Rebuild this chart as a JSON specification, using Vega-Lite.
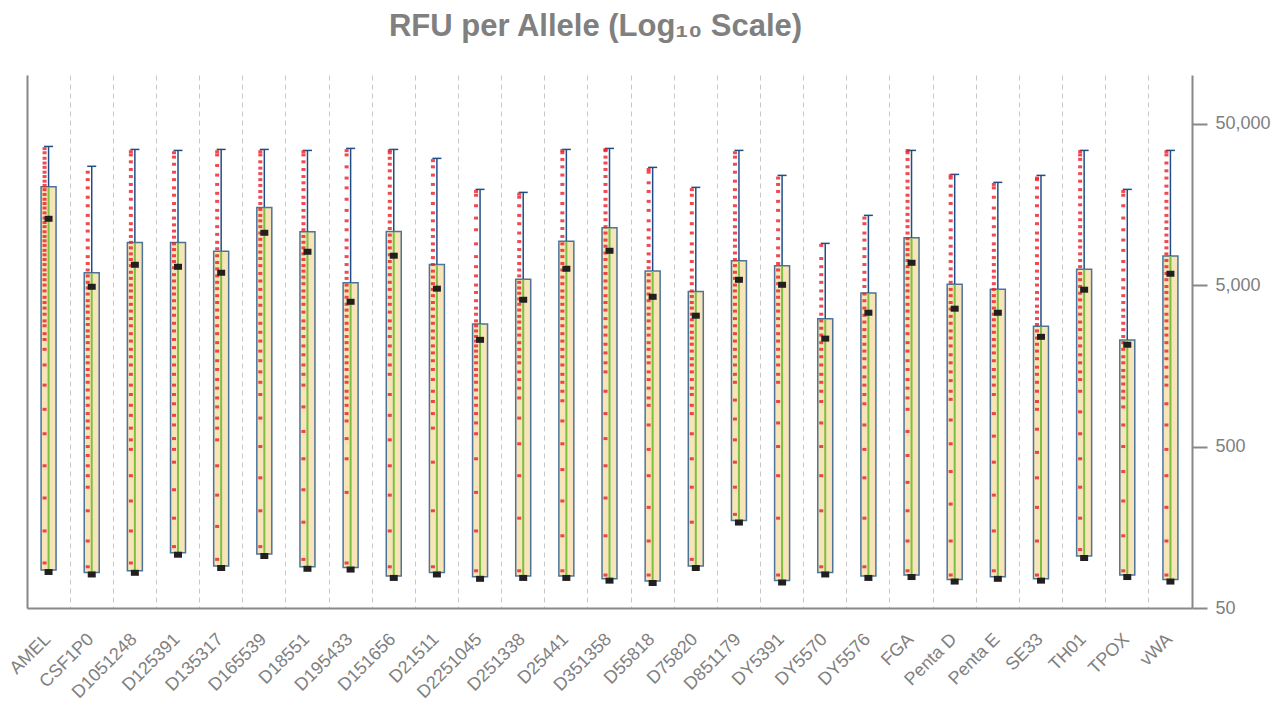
{
  "$schema": "https://vega.github.io/schema/vega-lite/v6.json",
  "width": 1165,
  "height": 533,
  "autosize": {"type": "none"},
  "padding": {"left": 27, "top": 75, "right": 93, "bottom": 99},
  "background": "white",
  "config": {"view": {"stroke": null}},
  "title": {"text": "RFU per Allele (Log₁₀ Scale)", "font": "Liberation Sans", "fontSize": 31, "fontWeight": "bold", "color": "#808080", "baseline": "alphabetic", "offset": 8, "dx": -14, "anchor": "middle"},
  "datasets": {
    "stats": [
      {"locus": "AMEL", "low": 86, "mid": 12870, "high": 20300, "max": 36100},
      {"locus": "CSF1P0", "low": 83, "mid": 4880, "high": 5960, "max": 27200},
      {"locus": "D1051248", "low": 85, "mid": 6680, "high": 9190, "max": 34600},
      {"locus": "D125391", "low": 110, "mid": 6490, "high": 9190, "max": 34100},
      {"locus": "D135317", "low": 91, "mid": 5960, "high": 8085, "max": 34600},
      {"locus": "D165539", "low": 108, "mid": 10540, "high": 15140, "max": 34600},
      {"locus": "D18551", "low": 90, "mid": 8040, "high": 10690, "max": 34100},
      {"locus": "D195433", "low": 89, "mid": 3940, "high": 5170, "max": 35100},
      {"locus": "D151656", "low": 79, "mid": 7600, "high": 10750, "max": 34600},
      {"locus": "D21511", "low": 83, "mid": 4750, "high": 6715, "max": 30450},
      {"locus": "D2251045", "low": 78, "mid": 2290, "high": 2870, "max": 19570},
      {"locus": "D251338", "low": 79, "mid": 4055, "high": 5425, "max": 18750},
      {"locus": "D25441", "low": 79, "mid": 6310, "high": 9325, "max": 34600},
      {"locus": "D351358", "low": 76, "mid": 8155, "high": 11320, "max": 35100},
      {"locus": "D55818", "low": 73.5, "mid": 4230, "high": 6107, "max": 26780},
      {"locus": "D75820", "low": 91, "mid": 3230, "high": 4570, "max": 20140},
      {"locus": "D851179", "low": 174, "mid": 5390, "high": 7070, "max": 34120},
      {"locus": "DY5391", "low": 74, "mid": 5020, "high": 6584, "max": 23890},
      {"locus": "DY5570", "low": 83, "mid": 2330, "high": 3093, "max": 9060},
      {"locus": "DY5576", "low": 79, "mid": 3370, "high": 4462, "max": 13510},
      {"locus": "FGA", "low": 80, "mid": 6870, "high": 9815, "max": 34120},
      {"locus": "Penta D", "low": 75, "mid": 3570, "high": 5050, "max": 24230},
      {"locus": "Penta E", "low": 78, "mid": 3370, "high": 4704, "max": 21630},
      {"locus": "SE33", "low": 76, "mid": 2390, "high": 2776, "max": 23890},
      {"locus": "TH01", "low": 105, "mid": 4680, "high": 6264, "max": 34120},
      {"locus": "TPOX", "low": 80, "mid": 2135, "high": 2283, "max": 19570},
      {"locus": "vWA", "low": 75, "mid": 5875, "high": 7560, "max": 34120}
    ],
    "pts": [
      {"locus":"AMEL","rfu":95},{"locus":"AMEL","rfu":150},{"locus":"AMEL","rfu":240},{"locus":"AMEL","rfu":380},{"locus":"AMEL","rfu":600},{"locus":"AMEL","rfu":850},{"locus":"AMEL","rfu":1200},{"locus":"AMEL","rfu":1600},{"locus":"AMEL","rfu":2000},{"locus":"AMEL","rfu":2500},{"locus":"AMEL","rfu":3000},{"locus":"AMEL","rfu":3600},{"locus":"AMEL","rfu":4200},{"locus":"AMEL","rfu":5000},{"locus":"AMEL","rfu":5800},{"locus":"AMEL","rfu":6700},{"locus":"AMEL","rfu":7700},{"locus":"AMEL","rfu":8800},{"locus":"AMEL","rfu":10000},{"locus":"AMEL","rfu":11500},{"locus":"AMEL","rfu":13000},{"locus":"AMEL","rfu":15000},{"locus":"AMEL","rfu":17000},{"locus":"AMEL","rfu":19500},{"locus":"AMEL","rfu":22000},{"locus":"AMEL","rfu":25000},{"locus":"AMEL","rfu":28500},{"locus":"AMEL","rfu":33000},
      {"locus":"AMEL","rfu":2300},{"locus":"AMEL","rfu":2800},{"locus":"AMEL","rfu":3300},{"locus":"AMEL","rfu":3900},{"locus":"AMEL","rfu":4600},{"locus":"AMEL","rfu":5400},{"locus":"AMEL","rfu":6200},{"locus":"AMEL","rfu":7200},{"locus":"AMEL","rfu":8200},{"locus":"AMEL","rfu":9400},{"locus":"AMEL","rfu":10700},{"locus":"AMEL","rfu":12200},{"locus":"AMEL","rfu":14000},{"locus":"AMEL","rfu":16000},{"locus":"AMEL","rfu":18200},{"locus":"AMEL","rfu":20700},{"locus":"AMEL","rfu":23500},{"locus":"AMEL","rfu":26800},{"locus":"AMEL","rfu":30500},{"locus":"AMEL","rfu":35000},
      {"locus":"CSF1P0","rfu":90},{"locus":"CSF1P0","rfu":130},{"locus":"CSF1P0","rfu":200},{"locus":"CSF1P0","rfu":280},{"locus":"CSF1P0","rfu":380},{"locus":"CSF1P0","rfu":500},{"locus":"CSF1P0","rfu":650},{"locus":"CSF1P0","rfu":800},{"locus":"CSF1P0","rfu":1000},{"locus":"CSF1P0","rfu":1250},{"locus":"CSF1P0","rfu":1500},{"locus":"CSF1P0","rfu":1800},{"locus":"CSF1P0","rfu":2200},{"locus":"CSF1P0","rfu":2600},{"locus":"CSF1P0","rfu":3100},{"locus":"CSF1P0","rfu":3700},{"locus":"CSF1P0","rfu":4400},{"locus":"CSF1P0","rfu":5200},{"locus":"CSF1P0","rfu":6200},{"locus":"CSF1P0","rfu":7500},{"locus":"CSF1P0","rfu":9500},{"locus":"CSF1P0","rfu":12000},{"locus":"CSF1P0","rfu":15500},{"locus":"CSF1P0","rfu":20000},{"locus":"CSF1P0","rfu":25000},
      {"locus":"CSF1P0","rfu":330},{"locus":"CSF1P0","rfu":440},{"locus":"CSF1P0","rfu":570},{"locus":"CSF1P0","rfu":720},{"locus":"CSF1P0","rfu":900},{"locus":"CSF1P0","rfu":1120},{"locus":"CSF1P0","rfu":1380},{"locus":"CSF1P0","rfu":1650},{"locus":"CSF1P0","rfu":2000},{"locus":"CSF1P0","rfu":2400},{"locus":"CSF1P0","rfu":2850},{"locus":"CSF1P0","rfu":3400},{"locus":"CSF1P0","rfu":4000},{"locus":"CSF1P0","rfu":4800},{"locus":"CSF1P0","rfu":5700},{"locus":"CSF1P0","rfu":6800},{"locus":"CSF1P0","rfu":8500},{"locus":"CSF1P0","rfu":10800},{"locus":"CSF1P0","rfu":13500},{"locus":"CSF1P0","rfu":17500},{"locus":"CSF1P0","rfu":22500},
      {"locus":"D1051248","rfu":95},{"locus":"D1051248","rfu":150},{"locus":"D1051248","rfu":230},{"locus":"D1051248","rfu":330},{"locus":"D1051248","rfu":480},{"locus":"D1051248","rfu":650},{"locus":"D1051248","rfu":900},{"locus":"D1051248","rfu":1200},{"locus":"D1051248","rfu":1600},{"locus":"D1051248","rfu":2000},{"locus":"D1051248","rfu":2500},{"locus":"D1051248","rfu":3100},{"locus":"D1051248","rfu":3800},{"locus":"D1051248","rfu":4600},{"locus":"D1051248","rfu":5500},{"locus":"D1051248","rfu":6600},{"locus":"D1051248","rfu":7800},{"locus":"D1051248","rfu":9200},{"locus":"D1051248","rfu":11000},{"locus":"D1051248","rfu":13500},{"locus":"D1051248","rfu":17000},{"locus":"D1051248","rfu":21000},{"locus":"D1051248","rfu":26000},{"locus":"D1051248","rfu":32000},
      {"locus":"D1051248","rfu":550},{"locus":"D1051248","rfu":780},{"locus":"D1051248","rfu":1050},{"locus":"D1051248","rfu":1400},{"locus":"D1051248","rfu":1800},{"locus":"D1051248","rfu":2250},{"locus":"D1051248","rfu":2800},{"locus":"D1051248","rfu":3450},{"locus":"D1051248","rfu":4200},{"locus":"D1051248","rfu":5000},{"locus":"D1051248","rfu":6000},{"locus":"D1051248","rfu":7200},{"locus":"D1051248","rfu":8500},{"locus":"D1051248","rfu":10000},{"locus":"D1051248","rfu":12000},{"locus":"D1051248","rfu":15000},{"locus":"D1051248","rfu":19000},{"locus":"D1051248","rfu":23500},{"locus":"D1051248","rfu":29000},{"locus":"D1051248","rfu":33500},
      {"locus":"D125391","rfu":120},{"locus":"D125391","rfu":180},{"locus":"D125391","rfu":270},{"locus":"D125391","rfu":400},{"locus":"D125391","rfu":560},{"locus":"D125391","rfu":780},{"locus":"D125391","rfu":1050},{"locus":"D125391","rfu":1400},{"locus":"D125391","rfu":1800},{"locus":"D125391","rfu":2300},{"locus":"D125391","rfu":2900},{"locus":"D125391","rfu":3600},{"locus":"D125391","rfu":4400},{"locus":"D125391","rfu":5300},{"locus":"D125391","rfu":6400},{"locus":"D125391","rfu":7600},{"locus":"D125391","rfu":9000},{"locus":"D125391","rfu":10800},{"locus":"D125391","rfu":13000},{"locus":"D125391","rfu":16000},{"locus":"D125391","rfu":20000},{"locus":"D125391","rfu":25000},{"locus":"D125391","rfu":31000},
      {"locus":"D125391","rfu":480},{"locus":"D125391","rfu":680},{"locus":"D125391","rfu":920},{"locus":"D125391","rfu":1200},{"locus":"D125391","rfu":1600},{"locus":"D125391","rfu":2050},{"locus":"D125391","rfu":2600},{"locus":"D125391","rfu":3250},{"locus":"D125391","rfu":4000},{"locus":"D125391","rfu":4800},{"locus":"D125391","rfu":5800},{"locus":"D125391","rfu":7000},{"locus":"D125391","rfu":8300},{"locus":"D125391","rfu":9900},{"locus":"D125391","rfu":11800},{"locus":"D125391","rfu":14500},{"locus":"D125391","rfu":18000},{"locus":"D125391","rfu":22500},{"locus":"D125391","rfu":28000},{"locus":"D125391","rfu":33000},
      {"locus":"D135317","rfu":100},{"locus":"D135317","rfu":160},{"locus":"D135317","rfu":250},{"locus":"D135317","rfu":380},{"locus":"D135317","rfu":550},{"locus":"D135317","rfu":750},{"locus":"D135317","rfu":1000},{"locus":"D135317","rfu":1300},{"locus":"D135317","rfu":1700},{"locus":"D135317","rfu":2200},{"locus":"D135317","rfu":2800},{"locus":"D135317","rfu":3500},{"locus":"D135317","rfu":4300},{"locus":"D135317","rfu":5200},{"locus":"D135317","rfu":6300},{"locus":"D135317","rfu":7600},{"locus":"D135317","rfu":9200},{"locus":"D135317","rfu":11500},{"locus":"D135317","rfu":14500},{"locus":"D135317","rfu":18500},{"locus":"D135317","rfu":24000},{"locus":"D135317","rfu":32000},
      {"locus":"D135317","rfu":650},{"locus":"D135317","rfu":880},{"locus":"D135317","rfu":1150},{"locus":"D135317","rfu":1500},{"locus":"D135317","rfu":1950},{"locus":"D135317","rfu":2500},{"locus":"D135317","rfu":3150},{"locus":"D135317","rfu":3900},{"locus":"D135317","rfu":4750},{"locus":"D135317","rfu":5700},{"locus":"D135317","rfu":6900},{"locus":"D135317","rfu":8400},{"locus":"D135317","rfu":10300},{"locus":"D135317","rfu":13000},{"locus":"D135317","rfu":16500},{"locus":"D135317","rfu":21000},{"locus":"D135317","rfu":27500},{"locus":"D135317","rfu":33500},
      {"locus":"D165539","rfu":120},{"locus":"D165539","rfu":200},{"locus":"D165539","rfu":320},{"locus":"D165539","rfu":500},{"locus":"D165539","rfu":750},{"locus":"D165539","rfu":1050},{"locus":"D165539","rfu":1450},{"locus":"D165539","rfu":1950},{"locus":"D165539","rfu":2550},{"locus":"D165539","rfu":3300},{"locus":"D165539","rfu":4200},{"locus":"D165539","rfu":5300},{"locus":"D165539","rfu":6600},{"locus":"D165539","rfu":8000},{"locus":"D165539","rfu":9600},{"locus":"D165539","rfu":11500},{"locus":"D165539","rfu":13500},{"locus":"D165539","rfu":16000},{"locus":"D165539","rfu":19000},{"locus":"D165539","rfu":22500},{"locus":"D165539","rfu":26500},{"locus":"D165539","rfu":32000},
      {"locus":"D165539","rfu":1250},{"locus":"D165539","rfu":1700},{"locus":"D165539","rfu":2250},{"locus":"D165539","rfu":2900},{"locus":"D165539","rfu":3750},{"locus":"D165539","rfu":4700},{"locus":"D165539","rfu":5900},{"locus":"D165539","rfu":7300},{"locus":"D165539","rfu":8800},{"locus":"D165539","rfu":10500},{"locus":"D165539","rfu":12500},{"locus":"D165539","rfu":14700},{"locus":"D165539","rfu":17500},{"locus":"D165539","rfu":20700},{"locus":"D165539","rfu":24500},{"locus":"D165539","rfu":29000},{"locus":"D165539","rfu":33500},
      {"locus":"D18551","rfu":100},{"locus":"D18551","rfu":170},{"locus":"D18551","rfu":270},{"locus":"D18551","rfu":420},{"locus":"D18551","rfu":620},{"locus":"D18551","rfu":880},{"locus":"D18551","rfu":1200},{"locus":"D18551","rfu":1600},{"locus":"D18551","rfu":2100},{"locus":"D18551","rfu":2700},{"locus":"D18551","rfu":3400},{"locus":"D18551","rfu":4200},{"locus":"D18551","rfu":5100},{"locus":"D18551","rfu":6100},{"locus":"D18551","rfu":7200},{"locus":"D18551","rfu":8500},{"locus":"D18551","rfu":10000},{"locus":"D18551","rfu":12000},{"locus":"D18551","rfu":14500},{"locus":"D18551","rfu":17500},{"locus":"D18551","rfu":21500},{"locus":"D18551","rfu":26000},{"locus":"D18551","rfu":32000},
      {"locus":"D18551","rfu":1400},{"locus":"D18551","rfu":1850},{"locus":"D18551","rfu":2400},{"locus":"D18551","rfu":3000},{"locus":"D18551","rfu":3800},{"locus":"D18551","rfu":4600},{"locus":"D18551","rfu":5600},{"locus":"D18551","rfu":6600},{"locus":"D18551","rfu":7800},{"locus":"D18551","rfu":9200},{"locus":"D18551","rfu":11000},{"locus":"D18551","rfu":13200},{"locus":"D18551","rfu":16000},{"locus":"D18551","rfu":19500},{"locus":"D18551","rfu":23500},{"locus":"D18551","rfu":29000},{"locus":"D18551","rfu":33500},
      {"locus":"D195433","rfu":95},{"locus":"D195433","rfu":260},{"locus":"D195433","rfu":420},{"locus":"D195433","rfu":560},{"locus":"D195433","rfu":720},{"locus":"D195433","rfu":900},{"locus":"D195433","rfu":1100},{"locus":"D195433","rfu":1350},{"locus":"D195433","rfu":1650},{"locus":"D195433","rfu":2000},{"locus":"D195433","rfu":2400},{"locus":"D195433","rfu":2900},{"locus":"D195433","rfu":3500},{"locus":"D195433","rfu":4200},{"locus":"D195433","rfu":5000},{"locus":"D195433","rfu":6000},{"locus":"D195433","rfu":7500},{"locus":"D195433","rfu":9500},{"locus":"D195433","rfu":12500},{"locus":"D195433","rfu":17000},{"locus":"D195433","rfu":23000},{"locus":"D195433","rfu":32000},
      {"locus":"D195433","rfu":800},{"locus":"D195433","rfu":1000},{"locus":"D195433","rfu":1250},{"locus":"D195433","rfu":1500},{"locus":"D195433","rfu":1800},{"locus":"D195433","rfu":2200},{"locus":"D195433","rfu":2650},{"locus":"D195433","rfu":3200},{"locus":"D195433","rfu":3800},{"locus":"D195433","rfu":4600},{"locus":"D195433","rfu":5500},{"locus":"D195433","rfu":6700},{"locus":"D195433","rfu":8500},{"locus":"D195433","rfu":11000},{"locus":"D195433","rfu":14500},{"locus":"D195433","rfu":20000},{"locus":"D195433","rfu":27000},{"locus":"D195433","rfu":34000},
      {"locus":"D151656","rfu":90},{"locus":"D151656","rfu":150},{"locus":"D151656","rfu":250},{"locus":"D151656","rfu":380},{"locus":"D151656","rfu":550},{"locus":"D151656","rfu":780},{"locus":"D151656","rfu":1050},{"locus":"D151656","rfu":1400},{"locus":"D151656","rfu":1850},{"locus":"D151656","rfu":2400},{"locus":"D151656","rfu":3000},{"locus":"D151656","rfu":3800},{"locus":"D151656","rfu":4700},{"locus":"D151656","rfu":5800},{"locus":"D151656","rfu":7000},{"locus":"D151656","rfu":8500},{"locus":"D151656","rfu":10200},{"locus":"D151656","rfu":12300},{"locus":"D151656","rfu":15000},{"locus":"D151656","rfu":18500},{"locus":"D151656","rfu":23000},{"locus":"D151656","rfu":28000},{"locus":"D151656","rfu":33000},
      {"locus":"D151656","rfu":1600},{"locus":"D151656","rfu":2100},{"locus":"D151656","rfu":2700},{"locus":"D151656","rfu":3400},{"locus":"D151656","rfu":4200},{"locus":"D151656","rfu":5200},{"locus":"D151656","rfu":6400},{"locus":"D151656","rfu":7700},{"locus":"D151656","rfu":9300},{"locus":"D151656","rfu":11200},{"locus":"D151656","rfu":13500},{"locus":"D151656","rfu":16500},{"locus":"D151656","rfu":20500},{"locus":"D151656","rfu":25500},{"locus":"D151656","rfu":30500},{"locus":"D151656","rfu":34000},
      {"locus":"D21511","rfu":90},{"locus":"D21511","rfu":200},{"locus":"D21511","rfu":400},{"locus":"D21511","rfu":650},{"locus":"D21511","rfu":950},{"locus":"D21511","rfu":1300},{"locus":"D21511","rfu":1700},{"locus":"D21511","rfu":2100},{"locus":"D21511","rfu":2600},{"locus":"D21511","rfu":3200},{"locus":"D21511","rfu":3900},{"locus":"D21511","rfu":4700},{"locus":"D21511","rfu":5600},{"locus":"D21511","rfu":6700},{"locus":"D21511","rfu":8200},{"locus":"D21511","rfu":10000},{"locus":"D21511","rfu":12500},{"locus":"D21511","rfu":16000},{"locus":"D21511","rfu":21000},{"locus":"D21511","rfu":27000},
      {"locus":"D21511","rfu":800},{"locus":"D21511","rfu":1100},{"locus":"D21511","rfu":1500},{"locus":"D21511","rfu":1900},{"locus":"D21511","rfu":2350},{"locus":"D21511","rfu":2900},{"locus":"D21511","rfu":3550},{"locus":"D21511","rfu":4300},{"locus":"D21511","rfu":5100},{"locus":"D21511","rfu":6100},{"locus":"D21511","rfu":7400},{"locus":"D21511","rfu":9000},{"locus":"D21511","rfu":11000},{"locus":"D21511","rfu":14000},{"locus":"D21511","rfu":18500},{"locus":"D21511","rfu":24000},{"locus":"D21511","rfu":29500},
      {"locus":"D2251045","rfu":85},{"locus":"D2251045","rfu":150},{"locus":"D2251045","rfu":260},{"locus":"D2251045","rfu":420},{"locus":"D2251045","rfu":600},{"locus":"D2251045","rfu":800},{"locus":"D2251045","rfu":1000},{"locus":"D2251045","rfu":1250},{"locus":"D2251045","rfu":1500},{"locus":"D2251045","rfu":1800},{"locus":"D2251045","rfu":2100},{"locus":"D2251045","rfu":2400},{"locus":"D2251045","rfu":2800},{"locus":"D2251045","rfu":3300},{"locus":"D2251045","rfu":4000},{"locus":"D2251045","rfu":5000},{"locus":"D2251045","rfu":6500},{"locus":"D2251045","rfu":9000},{"locus":"D2251045","rfu":13000},{"locus":"D2251045","rfu":18000},
      {"locus":"D2251045","rfu":700},{"locus":"D2251045","rfu":900},{"locus":"D2251045","rfu":1120},{"locus":"D2251045","rfu":1380},{"locus":"D2251045","rfu":1650},{"locus":"D2251045","rfu":1950},{"locus":"D2251045","rfu":2250},{"locus":"D2251045","rfu":2600},{"locus":"D2251045","rfu":3000},{"locus":"D2251045","rfu":3600},{"locus":"D2251045","rfu":4500},{"locus":"D2251045","rfu":5700},{"locus":"D2251045","rfu":7500},{"locus":"D2251045","rfu":11000},{"locus":"D2251045","rfu":15500},{"locus":"D2251045","rfu":19000},
      {"locus":"D251338","rfu":85},{"locus":"D251338","rfu":180},{"locus":"D251338","rfu":330},{"locus":"D251338","rfu":520},{"locus":"D251338","rfu":750},{"locus":"D251338","rfu":1000},{"locus":"D251338","rfu":1300},{"locus":"D251338","rfu":1650},{"locus":"D251338","rfu":2000},{"locus":"D251338","rfu":2450},{"locus":"D251338","rfu":2950},{"locus":"D251338","rfu":3500},{"locus":"D251338","rfu":4100},{"locus":"D251338","rfu":4800},{"locus":"D251338","rfu":5700},{"locus":"D251338","rfu":6800},{"locus":"D251338","rfu":8300},{"locus":"D251338","rfu":10500},{"locus":"D251338","rfu":13500},{"locus":"D251338","rfu":17500},
      {"locus":"D251338","rfu":1150},{"locus":"D251338","rfu":1450},{"locus":"D251338","rfu":1800},{"locus":"D251338","rfu":2200},{"locus":"D251338","rfu":2700},{"locus":"D251338","rfu":3200},{"locus":"D251338","rfu":3800},{"locus":"D251338","rfu":4450},{"locus":"D251338","rfu":5200},{"locus":"D251338","rfu":6200},{"locus":"D251338","rfu":7500},{"locus":"D251338","rfu":9300},{"locus":"D251338","rfu":12000},{"locus":"D251338","rfu":15500},{"locus":"D251338","rfu":18300},
      {"locus":"D25441","rfu":85},{"locus":"D25441","rfu":140},{"locus":"D25441","rfu":230},{"locus":"D25441","rfu":360},{"locus":"D25441","rfu":520},{"locus":"D25441","rfu":720},{"locus":"D25441","rfu":960},{"locus":"D25441","rfu":1250},{"locus":"D25441","rfu":1600},{"locus":"D25441","rfu":2000},{"locus":"D25441","rfu":2500},{"locus":"D25441","rfu":3100},{"locus":"D25441","rfu":3800},{"locus":"D25441","rfu":4600},{"locus":"D25441","rfu":5600},{"locus":"D25441","rfu":6800},{"locus":"D25441","rfu":8200},{"locus":"D25441","rfu":10000},{"locus":"D25441","rfu":12500},{"locus":"D25441","rfu":16000},{"locus":"D25441","rfu":21000},{"locus":"D25441","rfu":27000},{"locus":"D25441","rfu":33000},
      {"locus":"D25441","rfu":1100},{"locus":"D25441","rfu":1400},{"locus":"D25441","rfu":1800},{"locus":"D25441","rfu":2250},{"locus":"D25441","rfu":2800},{"locus":"D25441","rfu":3450},{"locus":"D25441","rfu":4200},{"locus":"D25441","rfu":5100},{"locus":"D25441","rfu":6200},{"locus":"D25441","rfu":7500},{"locus":"D25441","rfu":9000},{"locus":"D25441","rfu":11200},{"locus":"D25441","rfu":14000},{"locus":"D25441","rfu":18500},{"locus":"D25441","rfu":24000},{"locus":"D25441","rfu":30000},{"locus":"D25441","rfu":34000},
      {"locus":"D351358","rfu":80},{"locus":"D351358","rfu":140},{"locus":"D351358","rfu":240},{"locus":"D351358","rfu":380},{"locus":"D351358","rfu":560},{"locus":"D351358","rfu":800},{"locus":"D351358","rfu":1100},{"locus":"D351358","rfu":1450},{"locus":"D351358","rfu":1900},{"locus":"D351358","rfu":2450},{"locus":"D351358","rfu":3100},{"locus":"D351358","rfu":3900},{"locus":"D351358","rfu":4800},{"locus":"D351358","rfu":5900},{"locus":"D351358","rfu":7200},{"locus":"D351358","rfu":8700},{"locus":"D351358","rfu":10500},{"locus":"D351358","rfu":12700},{"locus":"D351358","rfu":15500},{"locus":"D351358","rfu":19000},{"locus":"D351358","rfu":23500},{"locus":"D351358","rfu":28500},{"locus":"D351358","rfu":34000},
      {"locus":"D351358","rfu":1650},{"locus":"D351358","rfu":2150},{"locus":"D351358","rfu":2750},{"locus":"D351358","rfu":3500},{"locus":"D351358","rfu":4300},{"locus":"D351358","rfu":5300},{"locus":"D351358","rfu":6500},{"locus":"D351358","rfu":7900},{"locus":"D351358","rfu":9500},{"locus":"D351358","rfu":11500},{"locus":"D351358","rfu":14000},{"locus":"D351358","rfu":17000},{"locus":"D351358","rfu":21000},{"locus":"D351358","rfu":26000},{"locus":"D351358","rfu":31000},{"locus":"D351358","rfu":34500},
      {"locus":"D55818","rfu":80},{"locus":"D55818","rfu":130},{"locus":"D55818","rfu":210},{"locus":"D55818","rfu":330},{"locus":"D55818","rfu":480},{"locus":"D55818","rfu":680},{"locus":"D55818","rfu":900},{"locus":"D55818","rfu":1150},{"locus":"D55818","rfu":1450},{"locus":"D55818","rfu":1800},{"locus":"D55818","rfu":2200},{"locus":"D55818","rfu":2700},{"locus":"D55818","rfu":3300},{"locus":"D55818","rfu":4000},{"locus":"D55818","rfu":4800},{"locus":"D55818","rfu":5800},{"locus":"D55818","rfu":7000},{"locus":"D55818","rfu":8800},{"locus":"D55818","rfu":11000},{"locus":"D55818","rfu":14500},{"locus":"D55818","rfu":19000},{"locus":"D55818","rfu":25000},
      {"locus":"D55818","rfu":1000},{"locus":"D55818","rfu":1300},{"locus":"D55818","rfu":1650},{"locus":"D55818","rfu":2000},{"locus":"D55818","rfu":2450},{"locus":"D55818","rfu":3000},{"locus":"D55818","rfu":3600},{"locus":"D55818","rfu":4400},{"locus":"D55818","rfu":5300},{"locus":"D55818","rfu":6400},{"locus":"D55818","rfu":7800},{"locus":"D55818","rfu":9800},{"locus":"D55818","rfu":12500},{"locus":"D55818","rfu":16500},{"locus":"D55818","rfu":21500},{"locus":"D55818","rfu":26000},
      {"locus":"D75820","rfu":100},{"locus":"D75820","rfu":170},{"locus":"D75820","rfu":280},{"locus":"D75820","rfu":420},{"locus":"D75820","rfu":600},{"locus":"D75820","rfu":800},{"locus":"D75820","rfu":1050},{"locus":"D75820","rfu":1300},{"locus":"D75820","rfu":1600},{"locus":"D75820","rfu":1950},{"locus":"D75820","rfu":2350},{"locus":"D75820","rfu":2800},{"locus":"D75820","rfu":3300},{"locus":"D75820","rfu":3900},{"locus":"D75820","rfu":4600},{"locus":"D75820","rfu":5600},{"locus":"D75820","rfu":7000},{"locus":"D75820","rfu":9000},{"locus":"D75820","rfu":12000},{"locus":"D75820","rfu":16000},{"locus":"D75820","rfu":19500},
      {"locus":"D75820","rfu":900},{"locus":"D75820","rfu":1150},{"locus":"D75820","rfu":1450},{"locus":"D75820","rfu":1750},{"locus":"D75820","rfu":2150},{"locus":"D75820","rfu":2550},{"locus":"D75820","rfu":3050},{"locus":"D75820","rfu":3600},{"locus":"D75820","rfu":4250},{"locus":"D75820","rfu":5100},{"locus":"D75820","rfu":6200},{"locus":"D75820","rfu":8000},{"locus":"D75820","rfu":10500},{"locus":"D75820","rfu":14000},{"locus":"D75820","rfu":18000},
      {"locus":"D851179","rfu":190},{"locus":"D851179","rfu":280},{"locus":"D851179","rfu":400},{"locus":"D851179","rfu":550},{"locus":"D851179","rfu":740},{"locus":"D851179","rfu":970},{"locus":"D851179","rfu":1250},{"locus":"D851179","rfu":1600},{"locus":"D851179","rfu":2000},{"locus":"D851179","rfu":2500},{"locus":"D851179","rfu":3100},{"locus":"D851179","rfu":3800},{"locus":"D851179","rfu":4600},{"locus":"D851179","rfu":5500},{"locus":"D851179","rfu":6600},{"locus":"D851179","rfu":7900},{"locus":"D851179","rfu":9500},{"locus":"D851179","rfu":11500},{"locus":"D851179","rfu":14000},{"locus":"D851179","rfu":17500},{"locus":"D851179","rfu":22000},{"locus":"D851179","rfu":28000},{"locus":"D851179","rfu":33000},
      {"locus":"D851179","rfu":1400},{"locus":"D851179","rfu":1800},{"locus":"D851179","rfu":2250},{"locus":"D851179","rfu":2800},{"locus":"D851179","rfu":3450},{"locus":"D851179","rfu":4200},{"locus":"D851179","rfu":5000},{"locus":"D851179","rfu":6000},{"locus":"D851179","rfu":7200},{"locus":"D851179","rfu":8700},{"locus":"D851179","rfu":10500},{"locus":"D851179","rfu":12700},{"locus":"D851179","rfu":15500},{"locus":"D851179","rfu":19500},{"locus":"D851179","rfu":25000},{"locus":"D851179","rfu":31000},
      {"locus":"DY5391","rfu":80},{"locus":"DY5391","rfu":180},{"locus":"DY5391","rfu":330},{"locus":"DY5391","rfu":500},{"locus":"DY5391","rfu":700},{"locus":"DY5391","rfu":950},{"locus":"DY5391","rfu":1250},{"locus":"DY5391","rfu":1600},{"locus":"DY5391","rfu":2000},{"locus":"DY5391","rfu":2500},{"locus":"DY5391","rfu":3100},{"locus":"DY5391","rfu":3800},{"locus":"DY5391","rfu":4600},{"locus":"DY5391","rfu":5600},{"locus":"DY5391","rfu":6800},{"locus":"DY5391","rfu":8500},{"locus":"DY5391","rfu":11000},{"locus":"DY5391","rfu":14500},{"locus":"DY5391","rfu":19000},{"locus":"DY5391","rfu":23000},
      {"locus":"DY5391","rfu":1400},{"locus":"DY5391","rfu":1800},{"locus":"DY5391","rfu":2250},{"locus":"DY5391","rfu":2800},{"locus":"DY5391","rfu":3450},{"locus":"DY5391","rfu":4200},{"locus":"DY5391","rfu":5100},{"locus":"DY5391","rfu":6200},{"locus":"DY5391","rfu":7600},{"locus":"DY5391","rfu":9700},{"locus":"DY5391","rfu":12500},{"locus":"DY5391","rfu":16500},{"locus":"DY5391","rfu":21000},
      {"locus":"DY5570","rfu":90},{"locus":"DY5570","rfu":200},{"locus":"DY5570","rfu":330},{"locus":"DY5570","rfu":500},{"locus":"DY5570","rfu":700},{"locus":"DY5570","rfu":950},{"locus":"DY5570","rfu":1250},{"locus":"DY5570","rfu":1600},{"locus":"DY5570","rfu":2000},{"locus":"DY5570","rfu":2450},{"locus":"DY5570","rfu":3000},{"locus":"DY5570","rfu":3700},{"locus":"DY5570","rfu":4600},{"locus":"DY5570","rfu":5800},{"locus":"DY5570","rfu":7300},{"locus":"DY5570","rfu":8800},
      {"locus":"DY5570","rfu":1100},{"locus":"DY5570","rfu":1400},{"locus":"DY5570","rfu":1800},{"locus":"DY5570","rfu":2200},{"locus":"DY5570","rfu":2700},{"locus":"DY5570","rfu":3300},{"locus":"DY5570","rfu":4100},{"locus":"DY5570","rfu":5200},{"locus":"DY5570","rfu":6500},
      {"locus":"DY5576","rfu":90},{"locus":"DY5576","rfu":180},{"locus":"DY5576","rfu":320},{"locus":"DY5576","rfu":480},{"locus":"DY5576","rfu":680},{"locus":"DY5576","rfu":920},{"locus":"DY5576","rfu":1200},{"locus":"DY5576","rfu":1550},{"locus":"DY5576","rfu":1950},{"locus":"DY5576","rfu":2400},{"locus":"DY5576","rfu":2950},{"locus":"DY5576","rfu":3600},{"locus":"DY5576","rfu":4400},{"locus":"DY5576","rfu":5400},{"locus":"DY5576","rfu":6700},{"locus":"DY5576","rfu":8400},{"locus":"DY5576","rfu":10500},{"locus":"DY5576","rfu":13000},
      {"locus":"DY5576","rfu":1050},{"locus":"DY5576","rfu":1350},{"locus":"DY5576","rfu":1750},{"locus":"DY5576","rfu":2150},{"locus":"DY5576","rfu":2650},{"locus":"DY5576","rfu":3250},{"locus":"DY5576","rfu":4000},{"locus":"DY5576","rfu":4900},{"locus":"DY5576","rfu":6000},{"locus":"DY5576","rfu":7500},{"locus":"DY5576","rfu":9500},{"locus":"DY5576","rfu":12000},
      {"locus":"FGA","rfu":85},{"locus":"FGA","rfu":130},{"locus":"FGA","rfu":200},{"locus":"FGA","rfu":300},{"locus":"FGA","rfu":440},{"locus":"FGA","rfu":620},{"locus":"FGA","rfu":850},{"locus":"FGA","rfu":1150},{"locus":"FGA","rfu":1500},{"locus":"FGA","rfu":1950},{"locus":"FGA","rfu":2500},{"locus":"FGA","rfu":3100},{"locus":"FGA","rfu":3800},{"locus":"FGA","rfu":4600},{"locus":"FGA","rfu":5500},{"locus":"FGA","rfu":6500},{"locus":"FGA","rfu":7700},{"locus":"FGA","rfu":9000},{"locus":"FGA","rfu":10500},{"locus":"FGA","rfu":12500},{"locus":"FGA","rfu":15000},{"locus":"FGA","rfu":18000},{"locus":"FGA","rfu":22000},{"locus":"FGA","rfu":27000},{"locus":"FGA","rfu":33000},
      {"locus":"FGA","rfu":1000},{"locus":"FGA","rfu":1300},{"locus":"FGA","rfu":1700},{"locus":"FGA","rfu":2200},{"locus":"FGA","rfu":2800},{"locus":"FGA","rfu":3450},{"locus":"FGA","rfu":4200},{"locus":"FGA","rfu":5000},{"locus":"FGA","rfu":6000},{"locus":"FGA","rfu":7100},{"locus":"FGA","rfu":8300},{"locus":"FGA","rfu":9700},{"locus":"FGA","rfu":11500},{"locus":"FGA","rfu":13700},{"locus":"FGA","rfu":16500},{"locus":"FGA","rfu":20000},{"locus":"FGA","rfu":24500},{"locus":"FGA","rfu":30000},{"locus":"FGA","rfu":34000},
      {"locus":"Penta D","rfu":80},{"locus":"Penta D","rfu":130},{"locus":"Penta D","rfu":220},{"locus":"Penta D","rfu":350},{"locus":"Penta D","rfu":520},{"locus":"Penta D","rfu":730},{"locus":"Penta D","rfu":980},{"locus":"Penta D","rfu":1280},{"locus":"Penta D","rfu":1650},{"locus":"Penta D","rfu":2100},{"locus":"Penta D","rfu":2600},{"locus":"Penta D","rfu":3200},{"locus":"Penta D","rfu":3900},{"locus":"Penta D","rfu":4700},{"locus":"Penta D","rfu":5700},{"locus":"Penta D","rfu":7000},{"locus":"Penta D","rfu":8700},{"locus":"Penta D","rfu":11000},{"locus":"Penta D","rfu":14000},{"locus":"Penta D","rfu":18000},{"locus":"Penta D","rfu":23000},
      {"locus":"Penta D","rfu":1100},{"locus":"Penta D","rfu":1450},{"locus":"Penta D","rfu":1850},{"locus":"Penta D","rfu":2350},{"locus":"Penta D","rfu":2900},{"locus":"Penta D","rfu":3550},{"locus":"Penta D","rfu":4300},{"locus":"Penta D","rfu":5200},{"locus":"Penta D","rfu":6300},{"locus":"Penta D","rfu":7800},{"locus":"Penta D","rfu":9800},{"locus":"Penta D","rfu":12500},{"locus":"Penta D","rfu":16000},{"locus":"Penta D","rfu":20500},{"locus":"Penta D","rfu":23800},
      {"locus":"Penta E","rfu":85},{"locus":"Penta E","rfu":150},{"locus":"Penta E","rfu":250},{"locus":"Penta E","rfu":400},{"locus":"Penta E","rfu":580},{"locus":"Penta E","rfu":800},{"locus":"Penta E","rfu":1050},{"locus":"Penta E","rfu":1350},{"locus":"Penta E","rfu":1700},{"locus":"Penta E","rfu":2100},{"locus":"Penta E","rfu":2550},{"locus":"Penta E","rfu":3050},{"locus":"Penta E","rfu":3600},{"locus":"Penta E","rfu":4300},{"locus":"Penta E","rfu":5100},{"locus":"Penta E","rfu":6100},{"locus":"Penta E","rfu":7400},{"locus":"Penta E","rfu":9000},{"locus":"Penta E","rfu":11500},{"locus":"Penta E","rfu":15000},{"locus":"Penta E","rfu":20000},
      {"locus":"Penta E","rfu":1200},{"locus":"Penta E","rfu":1500},{"locus":"Penta E","rfu":1900},{"locus":"Penta E","rfu":2300},{"locus":"Penta E","rfu":2800},{"locus":"Penta E","rfu":3300},{"locus":"Penta E","rfu":3950},{"locus":"Penta E","rfu":4700},{"locus":"Penta E","rfu":5600},{"locus":"Penta E","rfu":6700},{"locus":"Penta E","rfu":8200},{"locus":"Penta E","rfu":10200},{"locus":"Penta E","rfu":13000},{"locus":"Penta E","rfu":17500},{"locus":"Penta E","rfu":21000},
      {"locus":"SE33","rfu":80},{"locus":"SE33","rfu":130},{"locus":"SE33","rfu":210},{"locus":"SE33","rfu":320},{"locus":"SE33","rfu":460},{"locus":"SE33","rfu":640},{"locus":"SE33","rfu":850},{"locus":"SE33","rfu":1100},{"locus":"SE33","rfu":1400},{"locus":"SE33","rfu":1750},{"locus":"SE33","rfu":2150},{"locus":"SE33","rfu":2600},{"locus":"SE33","rfu":3100},{"locus":"SE33","rfu":3700},{"locus":"SE33","rfu":4500},{"locus":"SE33","rfu":5500},{"locus":"SE33","rfu":6800},{"locus":"SE33","rfu":8500},{"locus":"SE33","rfu":10500},{"locus":"SE33","rfu":13500},{"locus":"SE33","rfu":17500},{"locus":"SE33","rfu":22500},
      {"locus":"SE33","rfu":950},{"locus":"SE33","rfu":1250},{"locus":"SE33","rfu":1550},{"locus":"SE33","rfu":1950},{"locus":"SE33","rfu":2350},{"locus":"SE33","rfu":2850},{"locus":"SE33","rfu":3400},{"locus":"SE33","rfu":4100},{"locus":"SE33","rfu":5000},{"locus":"SE33","rfu":6100},{"locus":"SE33","rfu":7600},{"locus":"SE33","rfu":9500},{"locus":"SE33","rfu":12000},{"locus":"SE33","rfu":15500},{"locus":"SE33","rfu":20000},{"locus":"SE33","rfu":23000},
      {"locus":"TH01","rfu":115},{"locus":"TH01","rfu":180},{"locus":"TH01","rfu":280},{"locus":"TH01","rfu":420},{"locus":"TH01","rfu":600},{"locus":"TH01","rfu":820},{"locus":"TH01","rfu":1100},{"locus":"TH01","rfu":1450},{"locus":"TH01","rfu":1850},{"locus":"TH01","rfu":2350},{"locus":"TH01","rfu":2950},{"locus":"TH01","rfu":3650},{"locus":"TH01","rfu":4450},{"locus":"TH01","rfu":5400},{"locus":"TH01","rfu":6500},{"locus":"TH01","rfu":7800},{"locus":"TH01","rfu":9400},{"locus":"TH01","rfu":11500},{"locus":"TH01","rfu":14000},{"locus":"TH01","rfu":17500},{"locus":"TH01","rfu":22000},{"locus":"TH01","rfu":27000},{"locus":"TH01","rfu":32000},
      {"locus":"TH01","rfu":1300},{"locus":"TH01","rfu":1650},{"locus":"TH01","rfu":2100},{"locus":"TH01","rfu":2650},{"locus":"TH01","rfu":3300},{"locus":"TH01","rfu":4050},{"locus":"TH01","rfu":4900},{"locus":"TH01","rfu":5900},{"locus":"TH01","rfu":7100},{"locus":"TH01","rfu":8600},{"locus":"TH01","rfu":10400},{"locus":"TH01","rfu":12700},{"locus":"TH01","rfu":15700},{"locus":"TH01","rfu":19500},{"locus":"TH01","rfu":24500},{"locus":"TH01","rfu":30000},{"locus":"TH01","rfu":33500},
      {"locus":"TPOX","rfu":85},{"locus":"TPOX","rfu":140},{"locus":"TPOX","rfu":230},{"locus":"TPOX","rfu":350},{"locus":"TPOX","rfu":500},{"locus":"TPOX","rfu":680},{"locus":"TPOX","rfu":880},{"locus":"TPOX","rfu":1100},{"locus":"TPOX","rfu":1350},{"locus":"TPOX","rfu":1650},{"locus":"TPOX","rfu":2000},{"locus":"TPOX","rfu":2400},{"locus":"TPOX","rfu":2900},{"locus":"TPOX","rfu":3500},{"locus":"TPOX","rfu":4300},{"locus":"TPOX","rfu":5400},{"locus":"TPOX","rfu":7000},{"locus":"TPOX","rfu":9500},{"locus":"TPOX","rfu":13000},{"locus":"TPOX","rfu":18000},
      {"locus":"TPOX","rfu":1000},{"locus":"TPOX","rfu":1220},{"locus":"TPOX","rfu":1480},{"locus":"TPOX","rfu":1800},{"locus":"TPOX","rfu":2200},{"locus":"TPOX","rfu":2650},{"locus":"TPOX","rfu":3200},{"locus":"TPOX","rfu":3900},{"locus":"TPOX","rfu":4800},{"locus":"TPOX","rfu":6200},{"locus":"TPOX","rfu":8200},{"locus":"TPOX","rfu":11000},{"locus":"TPOX","rfu":15500},{"locus":"TPOX","rfu":19000},
      {"locus":"vWA","rfu":80},{"locus":"vWA","rfu":130},{"locus":"vWA","rfu":210},{"locus":"vWA","rfu":330},{"locus":"vWA","rfu":480},{"locus":"vWA","rfu":680},{"locus":"vWA","rfu":920},{"locus":"vWA","rfu":1200},{"locus":"vWA","rfu":1550},{"locus":"vWA","rfu":1950},{"locus":"vWA","rfu":2450},{"locus":"vWA","rfu":3000},{"locus":"vWA","rfu":3700},{"locus":"vWA","rfu":4500},{"locus":"vWA","rfu":5400},{"locus":"vWA","rfu":6500},{"locus":"vWA","rfu":7800},{"locus":"vWA","rfu":9300},{"locus":"vWA","rfu":11200},{"locus":"vWA","rfu":13500},{"locus":"vWA","rfu":16500},{"locus":"vWA","rfu":20500},{"locus":"vWA","rfu":25500},{"locus":"vWA","rfu":32000},
      {"locus":"vWA","rfu":1350},{"locus":"vWA","rfu":1750},{"locus":"vWA","rfu":2200},{"locus":"vWA","rfu":2700},{"locus":"vWA","rfu":3300},{"locus":"vWA","rfu":4100},{"locus":"vWA","rfu":4900},{"locus":"vWA","rfu":5900},{"locus":"vWA","rfu":7100},{"locus":"vWA","rfu":8500},{"locus":"vWA","rfu":10200},{"locus":"vWA","rfu":12300},{"locus":"vWA","rfu":15000},{"locus":"vWA","rfu":18500},{"locus":"vWA","rfu":23000},{"locus":"vWA","rfu":28500},{"locus":"vWA","rfu":33500}
    ]
  },
  "encoding": {
    "x": {
      "field": "locus",
      "type": "nominal",
      "scale": {
        "domain": ["AMEL","CSF1P0","D1051248","D125391","D135317","D165539","D18551","D195433","D151656","D21511","D2251045","D251338","D25441","D351358","D55818","D75820","D851179","DY5391","DY5570","DY5576","FGA","Penta D","Penta E","SE33","TH01","TPOX","vWA"],
        "paddingInner": 0,
        "paddingOuter": 0
      },
      "axis": {
        "title": null,
        "labelAngle": -45,
        "labelFont": "Liberation Sans",
        "labelFontSize": 18,
        "labelColor": "#808080",
        "labelPadding": 22,
        "labelOffset": -7,
        "ticks": false,
        "domainColor": "#888888",
        "domainWidth": 2,
        "grid": true,
        "bandPosition": 0,
        "gridColor": "#c8c8c8",
        "gridDash": [5, 4],
        "gridWidth": 1
      }
    }
  },
  "layer": [
    {
      "data": {"name": "stats"},
      "mark": {"type": "bar", "size": 15, "fill": "#F7E4B9", "stroke": "#2D5E8C", "strokeWidth": 1.5, "strokeOpacity": 0.85},
      "encoding": {
        "y": {"field": "low", "type": "quantitative", "scale": {"type": "log", "domain": [50, 100000], "nice": false},
          "axis": {"orient": "left", "title": null, "labels": false, "ticks": false, "grid": false, "domainColor": "#888888", "domainWidth": 2}},
        "y2": {"field": "high"}
      }
    },
    {
      "data": {"name": "stats"},
      "mark": {"type": "rule", "color": "#7BC043", "strokeWidth": 2},
      "encoding": {
        "y": {"field": "low", "type": "quantitative", "axis": null},
        "y2": {"field": "high"}
      }
    },
    {
      "data": {"name": "stats"},
      "mark": {"type": "rule", "color": "#1F4E86", "strokeWidth": 1.5},
      "encoding": {
        "y": {"field": "high", "type": "quantitative", "axis": null},
        "y2": {"field": "max"}
      }
    },
    {
      "data": {"name": "stats"},
      "mark": {"type": "tick", "color": "#1F4E86", "size": 9, "thickness": 1.5, "opacity": 1},
      "encoding": {
        "y": {"field": "max", "type": "quantitative", "axis": null}
      }
    },
    {
      "data": {"name": "pts"},
      "mark": {"type": "tick", "color": "#EC1C24", "size": 4, "thickness": 3, "opacity": 0.8, "xOffset": -4},
      "encoding": {
        "y": {"field": "rfu", "type": "quantitative", "axis": null}
      }
    },
    {
      "data": {"name": "stats"},
      "mark": {"type": "tick", "color": "#231F20", "size": 8, "thickness": 6, "opacity": 1},
      "encoding": {
        "y": {"field": "mid", "type": "quantitative",
          "axis": {"orient": "right", "title": null, "values": [50, 500, 5000, 50000], "format": ",", "labelFont": "Liberation Sans", "labelFontSize": 18, "labelColor": "#808080", "labelPadding": 8, "tickSize": 15, "tickWidth": 2, "tickColor": "#888888", "domainColor": "#888888", "domainWidth": 2, "grid": false}}
      }
    },
    {
      "data": {"name": "stats"},
      "mark": {"type": "tick", "color": "#231F20", "size": 8, "thickness": 6, "opacity": 1, "yOffset": 2},
      "encoding": {
        "y": {"field": "low", "type": "quantitative", "axis": null}
      }
    }
  ],
  "resolve": {"axis": {"y": "independent"}}
}
